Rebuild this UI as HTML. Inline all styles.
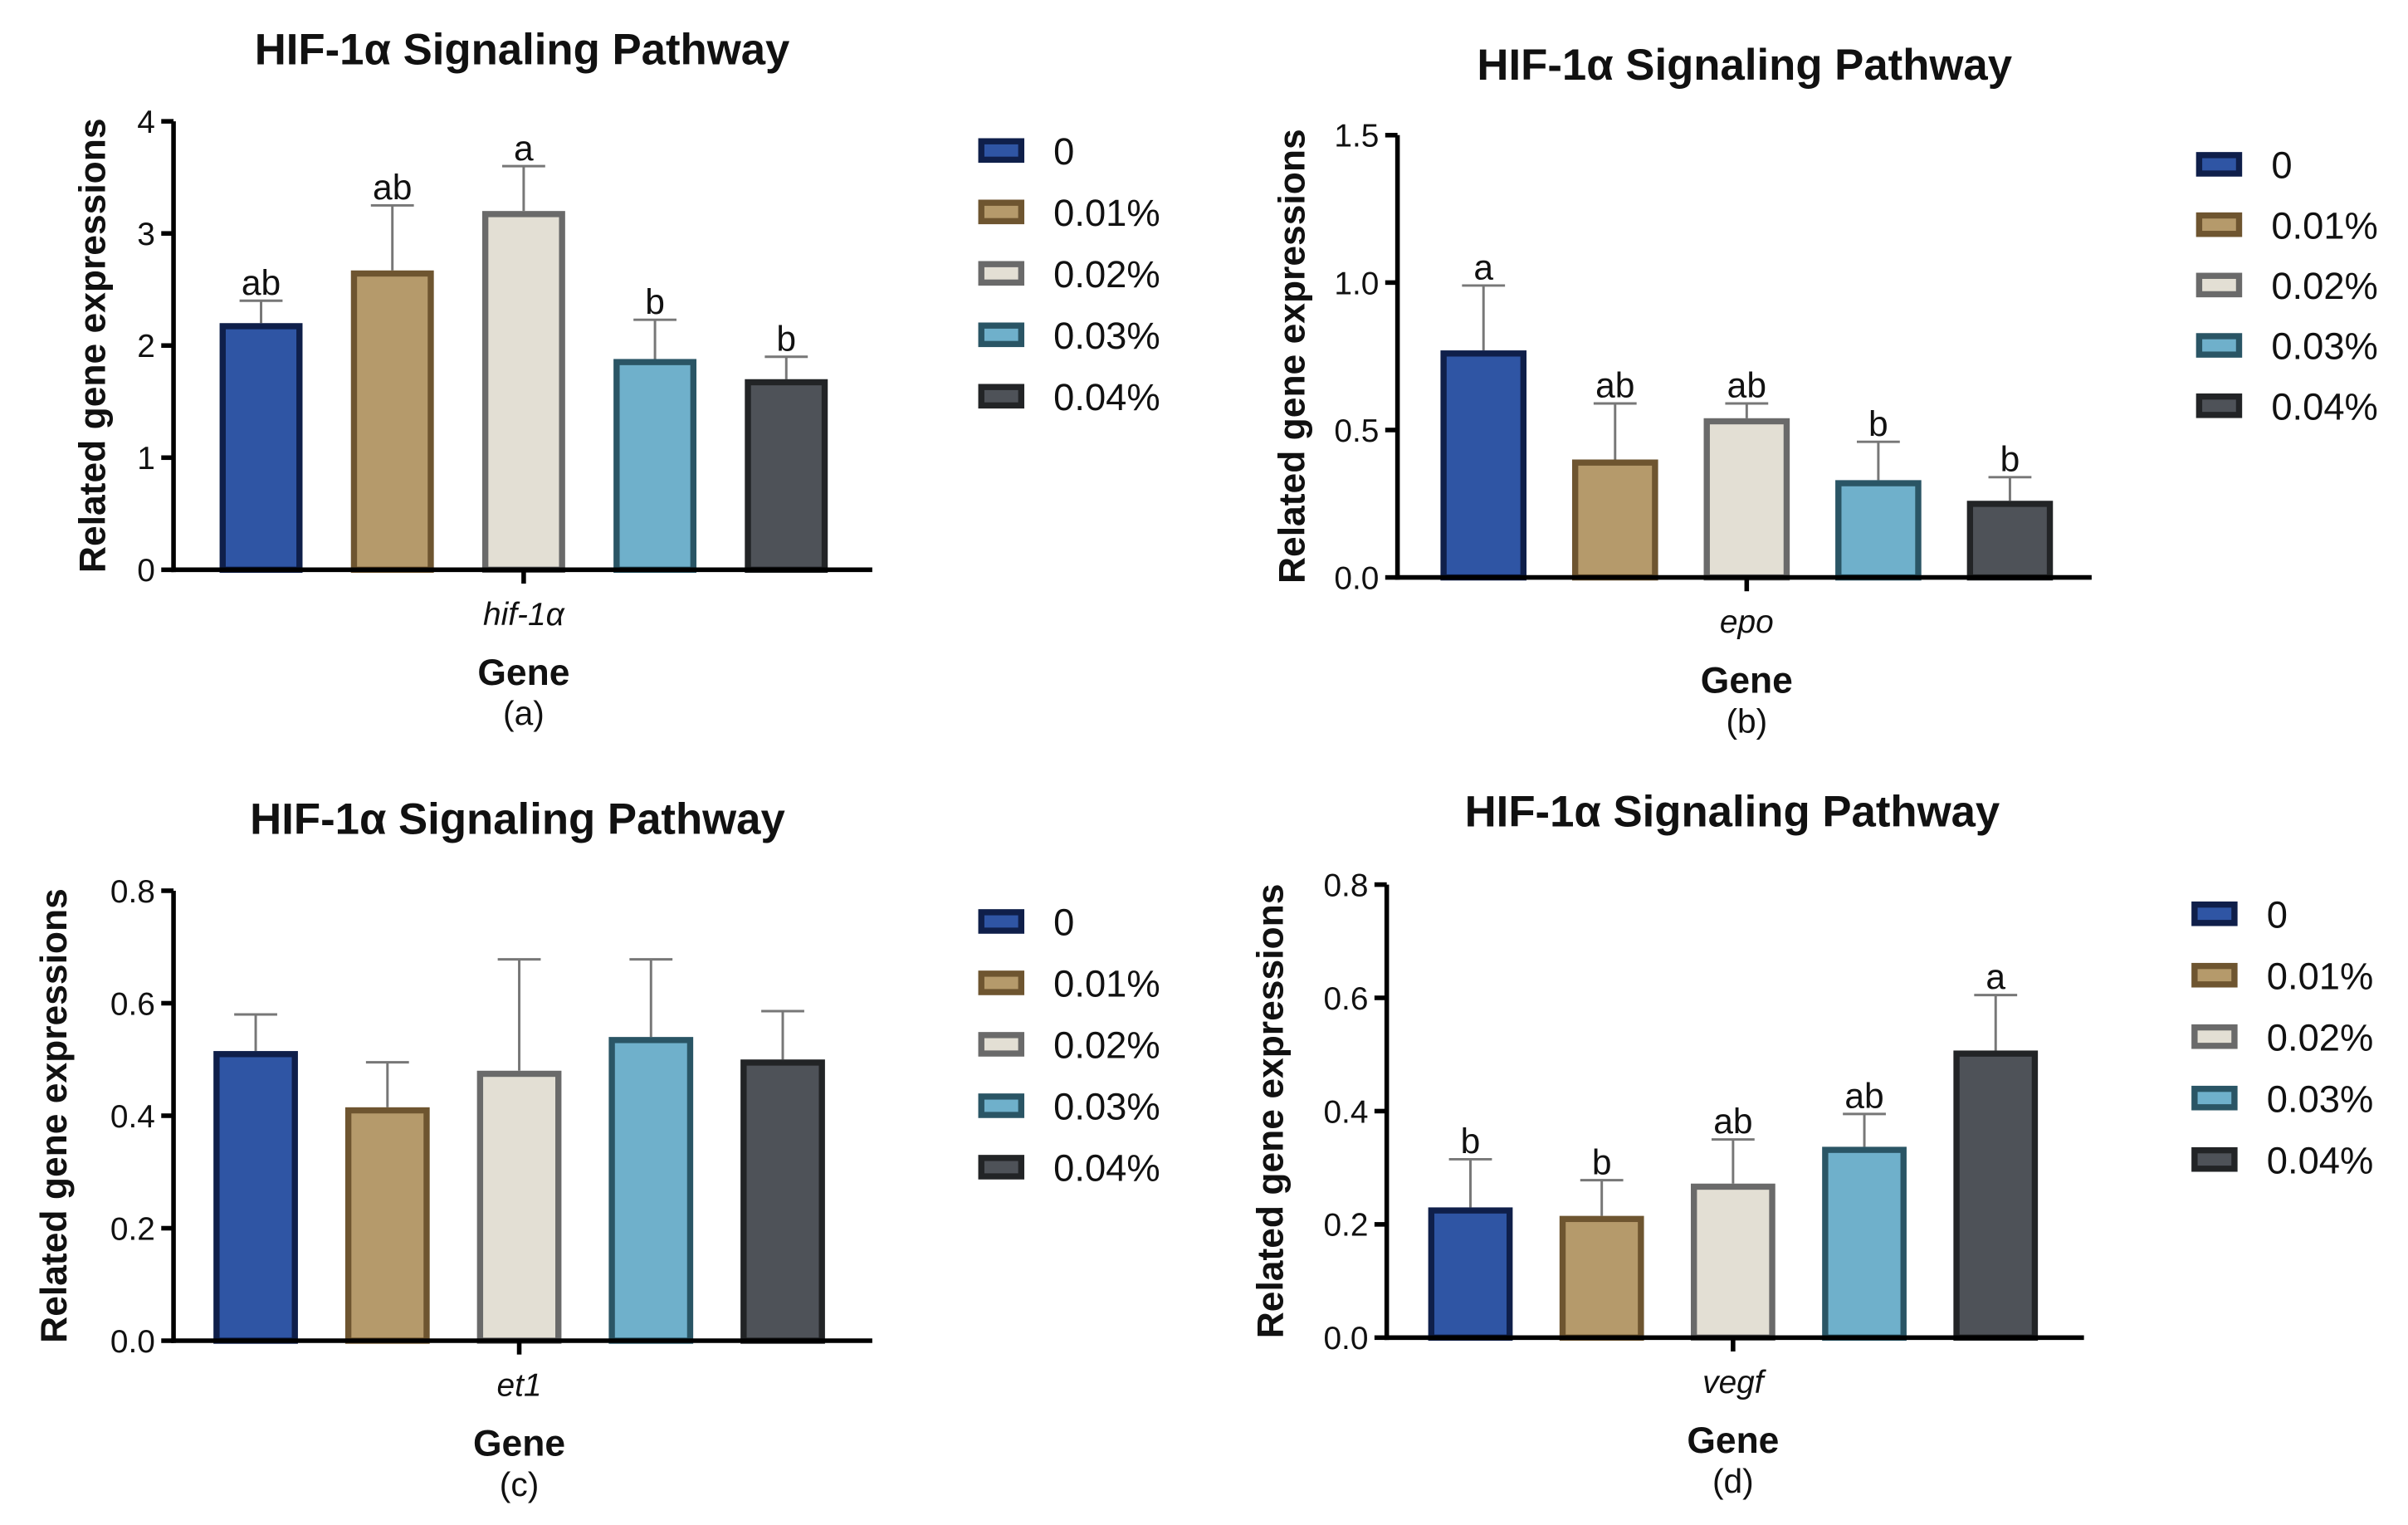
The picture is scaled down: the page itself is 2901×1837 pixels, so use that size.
<!DOCTYPE html>
<html><head><meta charset="utf-8"><style>
html,body{margin:0;padding:0;background:#fff;}
svg{display:block;font-family:"Liberation Sans",Arial,sans-serif;}
</style></head><body>
<svg id="fig" width="2901" height="1837" viewBox="0 0 1568 993" preserveAspectRatio="none" xmlns="http://www.w3.org/2000/svg"></svg>
<script>
const groups = ["0","0.01%","0.02%","0.03%","0.04%"];
const genes = ["hif-1α","epo","et1","vegf"];
const panelLabels = ["(a)","(b)","(c)","(d)"];
const valuesA = [2.2,2.67,3.2,1.88,1.7];
const errorsA = [2.4,3.25,3.6,2.23,1.9];
const lettersA = ["ab","ab","a","b","b"];
const valuesB = [0.77,0.40,0.54,0.33,0.26];
const errorsB = [0.99,0.59,0.59,0.46,0.34];
const lettersB = ["a","ab","ab","b","b"];
const valuesC = [0.515,0.415,0.48,0.54,0.50];
const errorsC = [0.58,0.495,0.678,0.678,0.586];
const lettersC = ["","","","",""];
const valuesD = [0.23,0.215,0.272,0.337,0.507];
const errorsD = [0.315,0.278,0.35,0.395,0.605];
const lettersD = ["b","b","ab","ab","a"];
const ticksA = [0,1,2,3,4];
const ticksB = [0.0,0.5,1.0,1.5];
const ticksC = [0.0,0.2,0.4,0.6,0.8];
const ticksD = [0.0,0.2,0.4,0.6,0.8];

const fills=["#2f55a4","#b59a6b","#e3dfd4","#6fb0cb","#4e5258"];
const strokes=["#0f1f4a","#6e5530","#6a6a6a","#2a5565","#222426"];
const layouts=[
 {ax:113,top:79,bot:371,right:568,bar0:143,step:85.5,bw:54,ymax:4,dec:0,titleY:32,titleX:340,legX:637,legY:98,legStep:40,ylX:62},
 {ax:910,top:88,bot:376,right:1362,bar0:938,step:85.7,bw:56,ymax:1.5,dec:1,titleY:42,titleX:1136,legX:1430,legY:107,legStep:39.3,ylX:843},
 {ax:113,top:580,bot:873,right:568,bar0:139,step:85.8,bw:55,ymax:0.8,dec:1,titleY:533,titleX:337,legX:637,legY:600,legStep:40,ylX:37},
 {ax:903,top:576,bot:871,right:1357,bar0:930,step:85.5,bw:55,ymax:0.8,dec:1,titleY:528,titleX:1128,legX:1427,legY:595,legStep:40,ylX:829}
];
const allVals=[valuesA,valuesB,valuesC,valuesD];
const allErr=[errorsA,errorsB,errorsC,errorsD];
const allLet=[lettersA,lettersB,lettersC,lettersD];
const allTicks=[ticksA,ticksB,ticksC,ticksD];
const svg=document.getElementById('fig');
const NS="http://www.w3.org/2000/svg";
function mk(tag,attrs,parent){const e=document.createElementNS(NS,tag);for(const k in attrs)e.setAttribute(k,attrs[k]);parent.appendChild(e);return e;}
layouts.forEach((L,p)=>{
 const g=mk('g',{},svg);
 
 
 const y=v=>L.bot-(v/L.ymax)*(L.bot-L.top);
 const t=mk('text',{x:L.titleX,y:L.titleY+10,'text-anchor':'middle','font-size':28.5,'font-weight':'bold',fill:'#111'},g);t.textContent='HIF-1α Signaling Pathway';
 
 
 allVals[p].forEach((v,i)=>{
  const x=L.bar0+i*L.step, cx=x+L.bw/2, e=allErr[p][i];
  const eb=mk('g',{},g);
  
  
  mk('line',{x1:cx,x2:cx,y1:y(v),y2:y(e),stroke:'#777','stroke-width':1.6},eb);
  mk('line',{x1:cx-14,x2:cx+14,y1:y(e),y2:y(e),stroke:'#777','stroke-width':1.6},eb);
  const r=mk('rect',{x:x+2,y:y(v)+2,width:L.bw-4,height:L.bot-y(v)-2,fill:fills[i],stroke:strokes[i],'stroke-width':4},g);
  
  
  if(allLet[p][i]){const lt=mk('text',{x:cx,y:y(e)-4,'text-anchor':'middle','font-size':23,fill:'#111'},g);lt.textContent=allLet[p][i];
   
   }
 });
 const axg=mk('g',{},g);
 
 
 mk('line',{x1:L.ax,x2:L.ax,y1:L.top,y2:L.bot+1.5,stroke:'#000','stroke-width':3},axg);
 mk('line',{x1:L.ax-1.5,x2:L.right,y1:L.bot,y2:L.bot,stroke:'#000','stroke-width':3},axg);
 allTicks[p].forEach(tv=>{
  mk('line',{x1:L.ax-8,x2:L.ax,y1:y(tv),y2:y(tv),stroke:'#000','stroke-width':3},axg);
  const tt=mk('text',{x:L.ax-12,y:y(tv)+7.5,'text-anchor':'end','font-size':21,fill:'#111'},axg);tt.textContent=tv.toFixed(L.dec);
  
  
 });
 const mid=(L.bar0+L.bar0+4*L.step+L.bw)/2;
 mk('line',{x1:mid,x2:mid,y1:L.bot,y2:L.bot+9,stroke:'#000','stroke-width':3},axg);
 const gl=mk('text',{x:mid,y:L.bot+36,'text-anchor':'middle','font-size':21,'font-style':'italic',fill:'#111'},g);gl.textContent=genes[p];
 
 
 const gx=mk('text',{x:mid,y:L.bot+75,'text-anchor':'middle','font-size':24,'font-weight':'bold',fill:'#111'},g);gx.textContent='Gene';
 
 
 const pl=mk('text',{x:mid,y:L.bot+101,'text-anchor':'middle','font-size':22,fill:'#111'},g);pl.textContent=panelLabels[p];
 
 
 const yc=(L.top+L.bot)/2;
 const yl=mk('text',{x:L.ylX,y:yc,'text-anchor':'middle','font-size':24,'font-weight':'bold',fill:'#111',transform:`rotate(-90 ${L.ylX} ${yc})`,'dominant-baseline':'middle'},g);yl.textContent='Related gene expressions';
 
 
 groups.forEach((gr,i)=>{
  const le=mk('g',{},g);
  
  
  const ly=L.legY+i*L.legStep;
  mk('rect',{x:L.legX+2,y:ly-6,width:26,height:12,fill:fills[i],stroke:strokes[i],'stroke-width':4},le);
  const lt=mk('text',{x:L.legX+49,y:ly+9,'font-size':24.5,fill:'#111'},le);lt.textContent=gr;
 });
});
</script>
</body></html>
